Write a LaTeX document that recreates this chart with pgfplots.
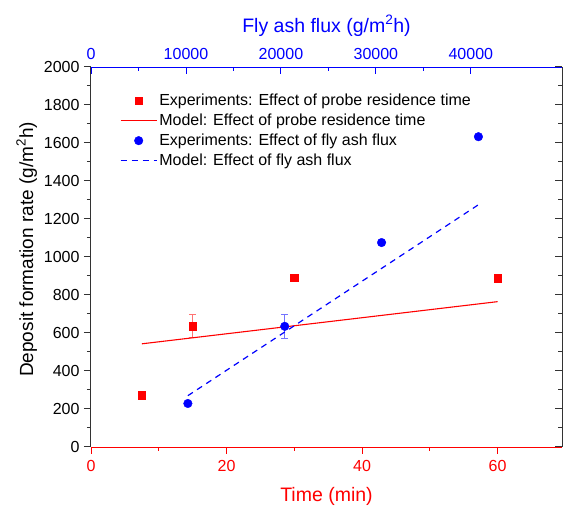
\documentclass[border=0pt]{standalone}
\usepackage{fontspec}
\setmainfont{Liberation Sans}
\usepackage{pgfplots}
\pgfplotsset{compat=1.18}
\newcommand{\tickfont}{\fontsize{16bp}{16bp}\selectfont}
\newcommand{\labfont}{\fontsize{19.5bp}{19.5bp}\selectfont}
\newcommand{\ylabfont}{\fontsize{19bp}{19bp}\selectfont}
\newcommand{\legfont}{\fontsize{16bp}{16bp}\selectfont}
\begin{document}
\begin{tikzpicture}
% bottom axis: time
\begin{axis}[
  name=ax1,
  scale only axis, width=471bp, height=380bp,
  xmin=0, xmax=69.5, ymin=0, ymax=2000,
  axis x line*=bottom, axis y line*=left,
  xtick={0,20,40,60}, minor x tick num=1,
  ytick={0,200,...,2000}, minor y tick num=1,
  tick align=outside,
  major tick length=7bp, minor tick length=4bp,
  x axis line style={red, line width=0.9bp},
  y axis line style={black!80, line width=1bp},
  every x tick/.append style={red, line width=0.9bp},
  every minor x tick/.append style={red, line width=0.9bp},
  every y tick/.append style={black!80, line width=1bp},
  every minor y tick/.append style={black!80, line width=1bp},
  xticklabel style={red, font=\tickfont, yshift=-3bp},
  yticklabel style={black, font=\tickfont, xshift=-1bp},
  xlabel={Time (min)}, xlabel style={red, font=\labfont, yshift=-9bp},
  ylabel={Deposit formation rate (g/m\textsuperscript{2}h)},
  ylabel style={font=\ylabfont, at={(ticklabel cs:0.52)}},
  /pgf/number format/assume math mode=true,
  /pgf/number format/1000 sep={},
  clip=false,
]
\addplot[only marks, mark=square*, mark size=3.7bp, red,
  error bars/.cd, y dir=both, y explicit,
  error bar style={red!55, line width=0.7bp},
  error mark options={rotate=90, mark size=3.5bp, red!55, line width=0.7bp}]
  coordinates {(7.5,272) +- (0,0) (15,636) +- (0,60) (30,891) +- (0,0) (60,889) +- (0,0)};
\addplot[red, line width=1.1bp, no marks] coordinates {(7.5,543) (60,765)};
\end{axis}
% top axis: fly ash flux
\begin{axis}[
  scale only axis, width=471bp, height=380bp,
  xmin=0, xmax=49600, ymin=0, ymax=2000,
  axis x line*=top, axis y line*=right,
  xtick={0,10000,...,40000}, minor x tick num=1,
  ytick={0,200,...,2000}, minor y tick num=1, yticklabels={},
  yticklabel style={overlay},
  scaled x ticks=false,
  tick align=inside,
  major tick length=7bp, minor tick length=4bp,
  x axis line style={blue, line width=0.9bp},
  y axis line style={black!80, line width=1bp},
  every x tick/.append style={blue, line width=0.9bp},
  every minor x tick/.append style={blue, line width=0.9bp},
  every y tick/.append style={black!80, line width=1bp},
  every minor y tick/.append style={black!80, line width=1bp},
  xticklabel style={blue, font=\tickfont, yshift=4bp},
  xlabel={Fly ash flux (g/m\textsuperscript{2}h)}, xlabel style={blue, font=\labfont, yshift=5bp},
  /pgf/number format/assume math mode=true,
  /pgf/number format/1000 sep={},
  legend style={at={(0.055,0.94)}, anchor=north west, draw=none, fill=none,
    font=\legfont, row sep=3bp},
  legend cell align=left,
  legend image code/.code={\draw[mark repeat=2,mark phase=2,#1] plot coordinates {(0bp,0bp)(18bp,0bp)(36bp,0bp)};},
  clip=false,
]
\addlegendimage{only marks, mark=square*, mark size=3.7bp, red}
\addlegendentry{Experiments: Effect of probe residence time}
\addlegendimage{red, line width=1.1bp, no marks}
\addlegendentry{Model: Effect of probe residence time}
\addplot[only marks, mark=*, mark size=4.3bp, blue,
  error bars/.cd, y dir=both, y explicit,
  error bar style={blue!55, line width=0.7bp},
  error mark options={rotate=90, mark size=3.5bp, blue!55, line width=0.7bp}]
  coordinates {(10200,229) +- (0,0) (20400,635) +- (0,62) (30600,1076) +- (0,0) (40800,1633) +- (0,0)};
\addlegendentry{Experiments: Effect of fly ash flux}
\addplot[blue, line width=1.2bp, dash pattern=on 6bp off 5bp, no marks] coordinates {(10200,270) (40800,1275)};
\addlegendentry{Model: Effect of fly ash flux}
\end{axis}
% page frame matching the reference margins
\path (ax1.south west) ++(-91bp,-61bp) coordinate (bl);
\path (ax1.north east) ++(1bp,67bp) coordinate (tr);
\path (bl) (tr);
\end{tikzpicture}
\end{document}
